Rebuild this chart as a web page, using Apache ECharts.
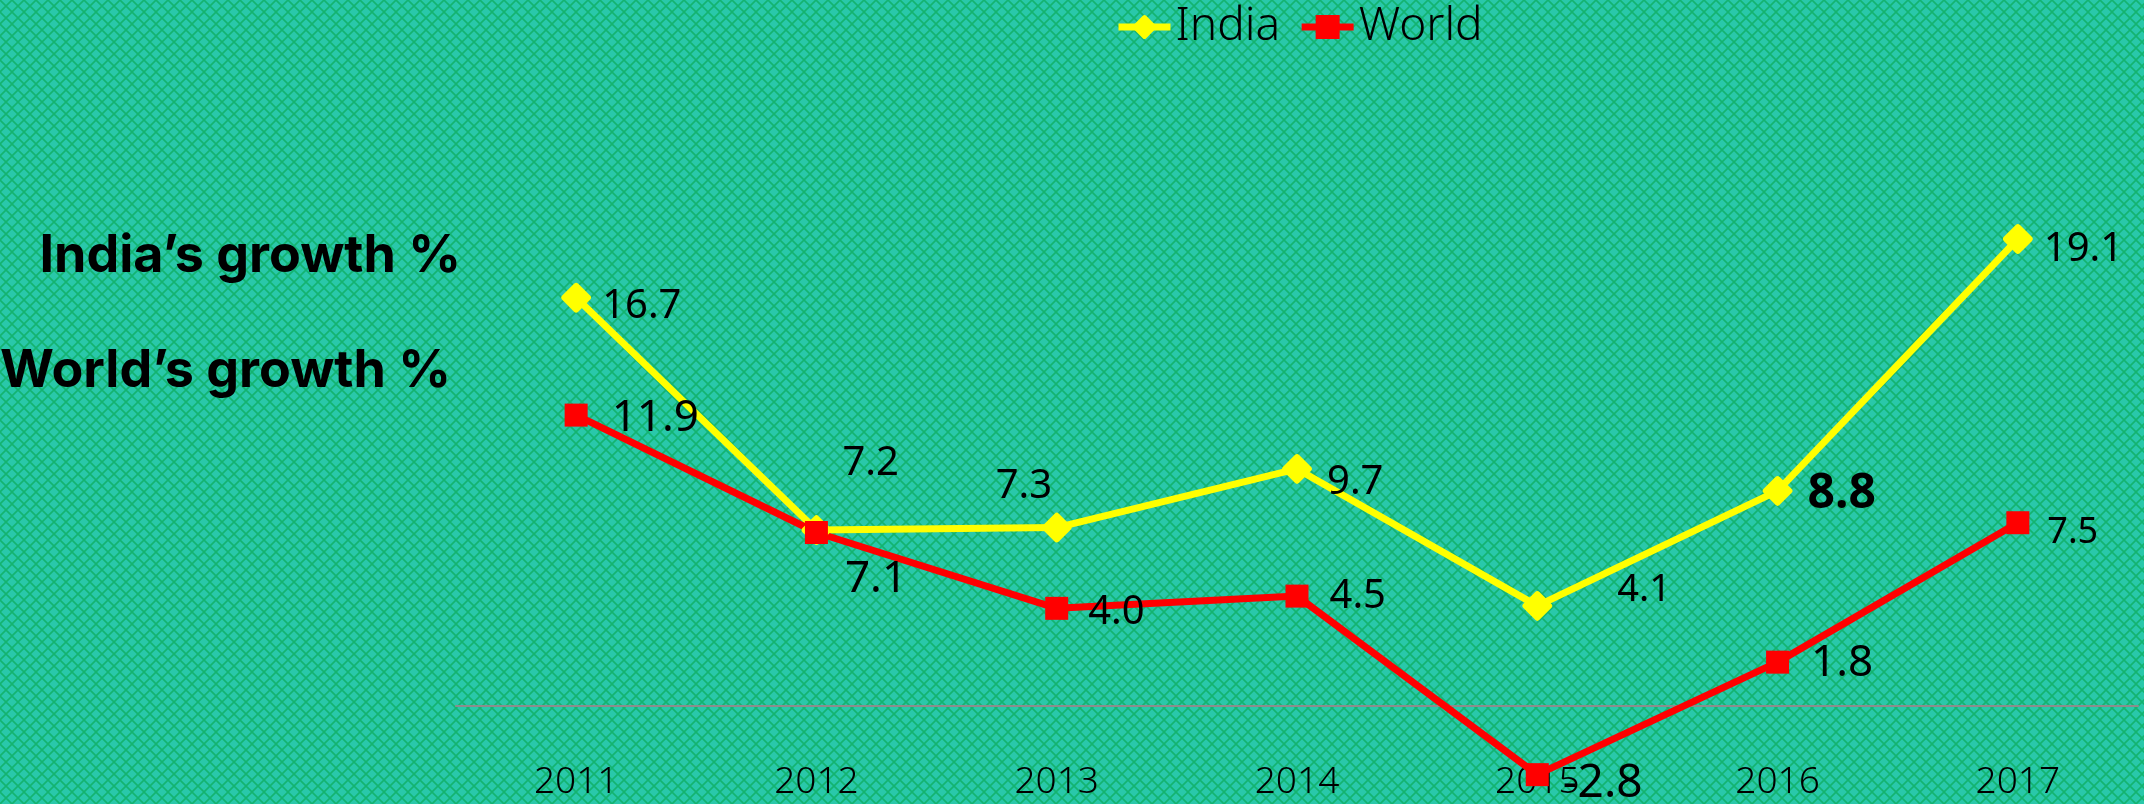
<!DOCTYPE html>
<html>
<head>
<meta charset="utf-8">
<script src="https://cdn.jsdelivr.net/npm/echarts@6.0.0/dist/echarts.min.js"></script>
<style>
  html, body { margin: 0; padding: 0; }
  #chart { width: 2144px; height: 804px; }
</style>
</head>
<body>
<div id="chart"></div>
<script>
// data
const years = ['2011', '2012', '2013', '2014', '2015', '2016', '2017']
const india = [16.7, 7.2, 7.3, 9.7, 4.1, 8.8, 19.1]
const world = [11.9, 7.1, 4.0, 4.5, -2.8, 1.8, 7.5]

// label placement, one per point (offset from the right side of the marker)
const indiaLabels = [
  { offset: [11, 9] },
  { offset: [11, -66] },
  { offset: [-76, -41] },
  { offset: [15, 14] },
  { offset: [65, -16], fontSize: 38 },
  { offset: [15, 3], fontSize: 48, fontWeight: 'bold' },
  { offset: [11, 11] }
]
const worldLabels = [
  { offset: [24, 3], fontSize: 44 },
  { offset: [17, 47], fontSize: 44 },
  { offset: [20, 4] },
  { offset: [21, 1] },
  { offset: [14, 9], fontSize: 46 },
  { offset: [22, 1], fontSize: 44 },
  { offset: [18, 10], fontSize: 36 }
]

const labelFont = '"Noto Sans", "Open Sans", sans-serif'
const diamond = 'path://M13,2 Q15,0 17,2 L28,13 Q30,15 28,17 L17,28 Q15,30 13,28 L2,17 Q0,15 2,13 Z'

// lattice background tile
const tile = document.createElement('canvas')
tile.width = 12
tile.height = 12
const tctx = tile.getContext('2d')
tctx.fillStyle = '#29c8aa'
tctx.fillRect(0, 0, 12, 12)
tctx.strokeStyle = 'rgba(14,172,92,0.75)'
tctx.lineWidth = 1.6
tctx.beginPath()
tctx.moveTo(0, 0); tctx.lineTo(12, 12)
tctx.moveTo(12, 0); tctx.lineTo(0, 12)
tctx.stroke()

function buildData(values, styles) {
  return values.map((v, i) => {
    const s = styles[i]
    return {
      value: v,
      label: {
        offset: s.offset,
        fontSize: s.fontSize || 40,
        fontWeight: s.fontWeight || 'normal'
      }
    }
  })
}

const chart = echarts.init(document.getElementById('chart'))

chart.setOption({
  backgroundColor: { image: tile, repeat: 'repeat' },
  animation: false,
  legend: {
    data: ['India', 'World'],
    top: 4,
    left: 1115,
    padding: 0,
    itemWidth: 52,
    itemHeight: 30,
    itemGap: 18,
    lineStyle: { width: 7 },
    textStyle: { fontSize: 46, color: '#000', fontFamily: labelFont, fontWeight: 300 }
  },
  grid: {
    left: 456,
    right: 6,
    top: 217,
    height: 587,
    outerBoundsMode: 'none'
  },
  xAxis: {
    type: 'category',
    data: years,
    boundaryGap: true,
    axisLine: { show: true, onZero: true, lineStyle: { color: '#8c8c8c', width: 2 } },
    axisTick: { show: false },
    axisLabel: {
      interval: 0,
      margin: -40,
      fontSize: 37,
      color: '#000',
      fontFamily: labelFont,
      fontWeight: 300
    }
  },
  yAxis: {
    type: 'value',
    min: -4,
    max: 20,
    show: false,
    splitLine: { show: false }
  },
  graphic: [
    {
      type: 'text',
      x: 461,
      y: 230,
      style: {
        text: 'India’s growth %',
        font: 'bold 52px Inter, "Noto Sans", sans-serif',
        fill: '#000',
        textAlign: 'right',
        textVerticalAlign: 'top'
      }
    },
    {
      type: 'text',
      x: 451,
      y: 345,
      style: {
        text: 'World’s growth %',
        font: 'bold 52px Inter, "Noto Sans", sans-serif',
        fill: '#000',
        textAlign: 'right',
        textVerticalAlign: 'top'
      }
    }
  ],
  series: [
    {
      name: 'India',
      type: 'line',
      data: buildData(india, indiaLabels),
      symbol: diamond,
      symbolSize: 30,
      lineStyle: { color: '#ffff00', width: 7 },
      itemStyle: { color: '#ffff00' },
      label: {
        show: true,
        position: 'right',
        distance: 0,
        color: '#000',
        fontFamily: labelFont,
        formatter: p => Number(p.value).toFixed(1)
      }
    },
    {
      name: 'World',
      type: 'line',
      data: buildData(world, worldLabels),
      symbol: 'rect',
      symbolSize: 23,
      lineStyle: { color: '#ff0000', width: 7 },
      itemStyle: { color: '#ff0000' },
      label: {
        show: true,
        position: 'right',
        distance: 0,
        color: '#000',
        fontFamily: labelFont,
        formatter: p => Number(p.value).toFixed(1)
      }
    }
  ]
})
</script>
</body>
</html>
